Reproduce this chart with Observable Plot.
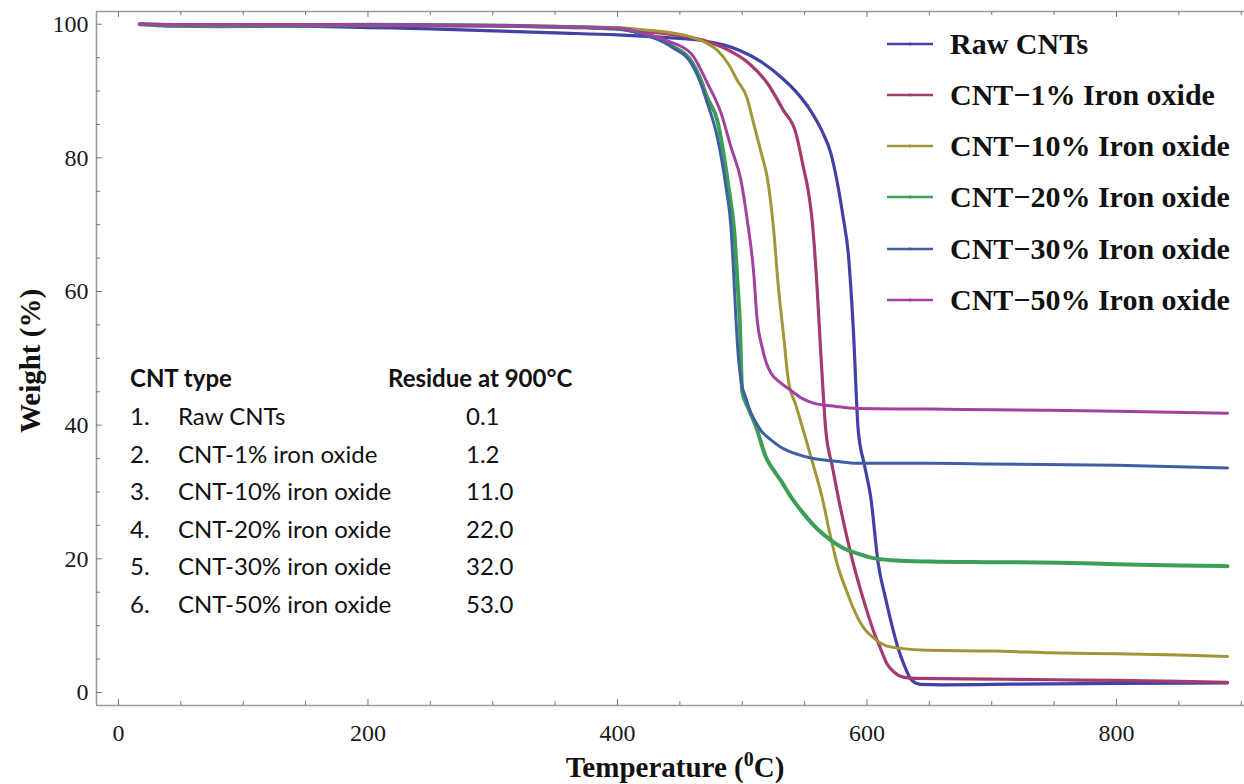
<!DOCTYPE html>
<html>
<head>
<meta charset="utf-8">
<script src="https://cdn.jsdelivr.net/npm/d3@7"></script>
<script src="https://cdn.jsdelivr.net/npm/@observablehq/plot@0.6"></script>
<style>
  html, body { margin: 0; padding: 0; background: #ffffff; }
  #chart { width: 1244px; height: 784px; }
  #chart svg g[aria-label$="tick label"] text { font-family: "Liberation Serif", "Times New Roman", serif; }
</style>
</head>
<body>
<div id="chart"></div>
<script>
// ---------------- data ----------------
const seriesNames = ["Raw CNTs", "CNT\u22121% Iron oxide", "CNT\u221210% Iron oxide", "CNT\u221220% Iron oxide", "CNT\u221230% Iron oxide", "CNT\u221250% Iron oxide"];
const seriesColors = ["#4141a6", "#a23b70", "#a39638", "#3c9f55", "#3f5fa2", "#a141a1"];
const seriesWidths = [3.2, 3.2, 3.0, 4.0, 3.0, 3.0];

const tRaw = [17, 60, 100, 150, 200, 250, 300, 350, 400, 440, 466, 485, 499, 515, 531, 545, 555, 565, 571, 576, 581, 585, 589, 593, 598, 603, 609, 615, 621, 626, 630, 636, 643, 660, 700, 750, 800, 850, 889];
const wRaw = [100, 99.9, 99.8, 99.7, 99.5, 99.3, 99.0, 98.7, 98.4, 98.0, 97.6, 96.9, 96.0, 94.4, 92.1, 89.5, 87.0, 83.6, 80.7, 76.5, 71.0, 65.7, 54.5, 39.2, 34.0, 29.2, 19.3, 14.0, 9.3, 6.0, 4.0, 1.8, 1.2, 1.15, 1.2, 1.3, 1.35, 1.4, 1.45];

const t1 = [17, 40, 80, 150, 200, 250, 300, 350, 400, 418, 450, 472, 490, 505, 520, 533, 543, 549, 553, 556, 560, 563, 567, 572, 577, 583, 589, 597, 605, 611, 616, 622, 629, 640, 700, 750, 800, 850, 889];
const w1 = [100, 99.7, 99.65, 99.7, 99.8, 99.8, 99.7, 99.6, 99.4, 99.0, 98.3, 97.4, 96.0, 94.2, 91.2, 87.1, 83.7, 78.6, 75.0, 70.7, 60.6, 50.7, 39.2, 34.0, 29.2, 24.0, 19.3, 14.0, 9.3, 6.5, 4.3, 3.0, 2.3, 2.1, 2.0, 1.9, 1.8, 1.65, 1.5];

const t10 = [17, 60, 100, 200, 300, 350, 400, 418, 440, 459, 470, 480, 489, 496, 504, 508, 512, 516, 520, 525, 529, 533, 537, 543, 549, 557, 564, 570, 576, 584, 591, 598, 605, 615, 627, 648, 700, 755, 800, 850, 889];
const w10 = [100, 99.8, 99.8, 99.9, 99.8, 99.7, 99.5, 99.2, 98.8, 98.1, 97.3, 96.1, 94.0, 91.6, 88.9, 86.0, 83.1, 80.2, 77.1, 69.6, 60.6, 53.7, 46.7, 43.0, 39.2, 34.0, 29.2, 24.0, 19.3, 15.0, 11.8, 9.5, 8.2, 7.0, 6.6, 6.3, 6.2, 5.9, 5.8, 5.6, 5.4];

const t20 = [17, 60, 100, 200, 300, 350, 400, 418, 435, 445, 459, 466, 472, 480, 489, 494, 496, 498, 500, 505, 511, 519, 525, 531, 540, 549, 560, 571, 582, 592, 605, 619, 650, 700, 755, 800, 850, 889];
const w20 = [100, 99.8, 99.8, 99.9, 99.8, 99.6, 99.3, 98.7, 97.6, 96.6, 94.5, 92.0, 89.0, 85.6, 75.6, 68.1, 62.0, 55.7, 45.0, 42.5, 39.8, 35.2, 33.3, 31.7, 29.0, 26.8, 24.5, 22.8, 21.5, 20.8, 20.1, 19.8, 19.6, 19.5, 19.4, 19.2, 19.0, 18.9];

const t30 = [17, 60, 100, 200, 300, 350, 400, 418, 435, 445, 459, 466, 472, 480, 487, 491, 493, 495, 497, 499, 503, 507, 511, 515, 523, 531, 545, 557, 575, 592, 650, 700, 800, 889];
const w30 = [100, 99.9, 99.9, 99.9, 99.8, 99.6, 99.3, 98.6, 97.5, 96.4, 94.2, 91.5, 88.2, 83.1, 75.6, 69.6, 63.2, 55.7, 50.0, 46.7, 44.0, 41.8, 40.4, 39.2, 37.8, 36.7, 35.6, 35.0, 34.6, 34.3, 34.3, 34.2, 34.0, 33.6];

const t50 = [17, 60, 100, 200, 300, 350, 400, 418, 440, 459, 472, 483, 491, 499, 504, 509, 512, 516, 519, 523, 531, 539, 548, 557, 575, 592, 650, 700, 800, 889];
const w50 = [100, 99.9, 99.9, 99.9, 99.8, 99.6, 99.4, 98.8, 97.5, 95.6, 91.2, 86.7, 81.6, 76.6, 70.7, 63.2, 55.7, 51.6, 49.5, 47.8, 46.3, 45.2, 44.0, 43.3, 42.8, 42.5, 42.4, 42.3, 42.1, 41.8];

const seriesT = [tRaw, t1, t10, t20, t30, t50];
const seriesW = [wRaw, w1, w10, w20, w30, w50];

// inset table
const tableHeader = ["CNT type", "Residue at 900\u00B0C"];
const tableNumbers = ["1.", "2.", "3.", "4.", "5.", "6."];
const tableTypes = ["Raw CNTs", "CNT-1% iron oxide", "CNT-10% iron oxide", "CNT-20% iron oxide", "CNT-30% iron oxide", "CNT-50% iron oxide"];
const tableResidues = ["0.1", "1.2", "11.0", "22.0", "32.0", "53.0"];

// axes
const xDomain = [-17.6, 902.6];
const yDomain = [-1.95, 101.9];
const xMajorTicks = [0, 200, 400, 600, 800];
const xMinorTicks = [50, 100, 150, 250, 300, 350, 450, 500, 550, 650, 700, 750, 850, 900];
const yMajorTicks = [0, 20, 40, 60, 80, 100];
const yMinorTicks = [5, 10, 15, 25, 30, 35, 45, 50, 55, 65, 70, 75, 85, 90, 95];

// ---------------- layout ----------------
const width = 1244, height = 784;
const marginLeft = 96, marginTop = 11, marginBottom = 79, marginRight = 0;
const innerW = width - marginLeft - marginRight;
const innerH = height - marginTop - marginBottom;
const frameColor = "#9c9c9c";
const serif = "Liberation Serif, Times New Roman, serif";
const sans = "Lato, Carlito, Open Sans, sans-serif";

const rows = [];
seriesNames.forEach((name, i) => {
  seriesT[i].forEach((t, j) => rows.push({series: name, T: t, W: seriesW[i][j]}));
});

const lineMarks = seriesNames.map((name, i) =>
  Plot.line(rows.filter(r => r.series === name), {
    x: "T", y: "W",
    stroke: seriesColors[i],
    strokeWidth: seriesWidths[i],
    curve: "monotone-x",
    strokeLinejoin: "round",
    strokeLinecap: "round"
  })
);

const majorLen = 6, minorLen = 4;

const plot = Plot.plot({
  width, height, marginLeft, marginTop, marginBottom, marginRight,
  style: {fontFamily: serif, fontSize: "24px", background: "#ffffff", color: "#1a1a1a"},
  x: {domain: xDomain, label: null},
  y: {domain: yDomain, label: null},
  marks: [
    Plot.ruleX([xDomain[0]], {stroke: frameColor, strokeWidth: 1.6}),
    Plot.ruleY([yDomain[0]], {stroke: frameColor, strokeWidth: 1.6}),
    Plot.ruleY([yDomain[1]], {stroke: frameColor, strokeWidth: 1.6}),
    Plot.tickX(xMajorTicks, {x: d => d, stroke: "#777", strokeWidth: 1, insetTop: innerH - majorLen}),
    Plot.tickX(xMinorTicks, {x: d => d, stroke: "#777", strokeWidth: 1, insetTop: innerH - minorLen}),
    Plot.tickX(xMajorTicks, {x: d => d, stroke: "#777", strokeWidth: 1, insetBottom: innerH - majorLen}),
    Plot.tickX(xMinorTicks, {x: d => d, stroke: "#777", strokeWidth: 1, insetBottom: innerH - minorLen}),
    Plot.tickY(yMajorTicks, {y: d => d, stroke: "#777", strokeWidth: 1, insetRight: innerW - majorLen}),
    Plot.tickY(yMinorTicks, {y: d => d, stroke: "#777", strokeWidth: 1, insetRight: innerW - minorLen}),
    Plot.axisX({ticks: xMajorTicks, tickSize: 0, tickPadding: 18, fontSize: 24, fontFamily: serif, label: null, tickFormat: d => String(d)}),
    Plot.axisY({ticks: yMajorTicks, tickSize: 0, tickPadding: 8, fontSize: 24, fontFamily: serif, label: null, tickFormat: d => String(d)}),
    ...lineMarks
  ]
});

document.getElementById("chart").appendChild(plot);

// ---------------- annotations (titles, legend, inset table) ----------------
const svg = d3.select(plot);

// make sure tick labels are in the serif face
svg.selectAll("g[aria-label$='tick label'] text, g[aria-label$='tick label']")
  .attr("font-family", serif)
  .style("font-family", serif);

svg.append("text")
  .attr("transform", "translate(30,361) rotate(-90)")
  .attr("text-anchor", "middle")
  .attr("dy", "0.35em")
  .attr("font-family", serif).attr("font-weight", "bold").attr("font-size", 29)
  .attr("fill", "#111")
  .text("Weight (%)");

const xt = svg.append("text")
  .attr("x", 675).attr("y", 777)
  .attr("text-anchor", "middle")
  .attr("font-family", serif).attr("font-weight", "bold").attr("font-size", 29)
  .attr("fill", "#111");
xt.append("tspan").text("Temperature (");
xt.append("tspan").attr("font-size", 20).attr("dy", -11).text("0");
xt.append("tspan").attr("dy", 11).text("C)");

const legend = svg.append("g");
const legendRowsY = [44, 95, 146, 197, 249, 300];
seriesNames.forEach((name, i) => {
  const y = legendRowsY[i];
  legend.append("line")
    .attr("x1", 887).attr("x2", 933).attr("y1", y).attr("y2", y)
    .attr("stroke", seriesColors[i]).attr("stroke-width", 2.6);
  legend.append("circle")
    .attr("cx", 910).attr("cy", y).attr("r", 1.4).attr("fill", seriesColors[i]);
  legend.append("text")
    .attr("x", 950).attr("y", y + 10)
    .attr("text-anchor", "start")
    .attr("font-family", serif).attr("font-weight", "bold").attr("font-size", 30)
    .attr("fill", "#111")
    .text(name);
});

const table = svg.append("g").attr("font-family", sans).attr("font-size", 24).attr("fill", "#111").attr("text-anchor", "start");
table.append("text").attr("x", 130).attr("y", 387).attr("font-weight", "bold").text(tableHeader[0]);
table.append("text").attr("x", 388).attr("y", 387).attr("font-weight", "bold").text(tableHeader[1]);
tableTypes.forEach((t, i) => {
  const y = 425 + i * 37.5;
  table.append("text").attr("x", 130).attr("y", y).text(tableNumbers[i]);
  table.append("text").attr("x", 178).attr("y", y).text(t);
  table.append("text").attr("x", 466).attr("y", y).text(tableResidues[i]);
});
</script>
</body>
</html>
